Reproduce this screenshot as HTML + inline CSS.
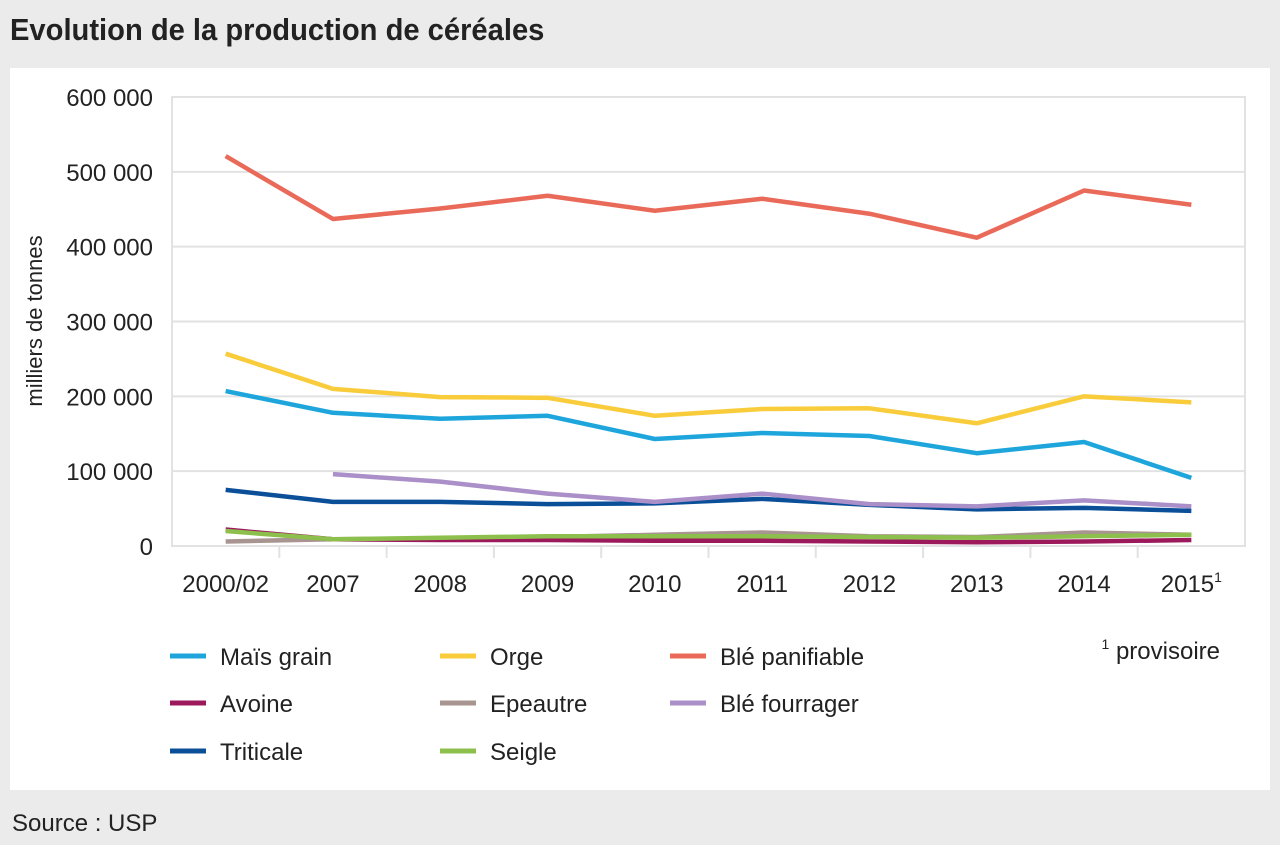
<!DOCTYPE html>
<html><head><meta charset="utf-8"><style>
body{margin:0;width:1280px;height:845px;background:#ebebeb;font-family:"Liberation Sans",sans-serif;overflow:hidden;position:relative}
#title{position:absolute;left:10px;top:12px;font-size:31px;font-weight:bold;color:#222;transform:scaleX(0.94);transform-origin:left top}
#panel{position:absolute;left:10px;top:68px;width:1260px;height:722px;background:#fff}
#src{position:absolute;left:12px;top:810px;font-size:24px;color:#222}
svg text{font-family:"Liberation Sans",sans-serif;fill:#222}
</style></head><body>
<div id="title">Evolution de la production de céréales</div>
<div id="panel"></div>
<svg id="chart" width="1280" height="845" style="position:absolute;left:0;top:0"></svg>
<div id="src">Source : USP</div>
<script>
const categories=["2000/02","2007","2008","2009","2010","2011","2012","2013","2014","2015"];
const yTicks=[0,100000,200000,300000,400000,500000,600000];
const yTickLabels=["0","100 000","200 000","300 000","400 000","500 000","600 000"];
const seriesNames=["Maïs grain","Orge","Blé panifiable","Avoine","Epeautre","Blé fourrager","Triticale","Seigle"];
const seriesColors=["#1ea6dc","#f9cc3c","#ea6a5a","#9c1a5c","#a89490","#ab8fc8","#0a4f98","#8cbf4c"];
const maisGrain=[207000,178000,170000,174000,143000,151000,147000,124000,139000,91000];
const orge=[257000,210000,199000,198000,174000,183000,184000,164000,200000,192000];
const blePanifiable=[521000,437000,451000,468000,448000,464000,444000,412000,475000,456000];
const avoine=[22000,9000,8000,8000,7000,7000,6000,5000,6000,8000];
const epeautre=[6000,9000,10000,12000,15000,18000,13000,12000,18000,15000];
const bleFourrager=[null,96000,86000,70000,59000,70000,56000,53000,61000,53000];
const triticale=[75000,59000,59000,56000,57000,63000,55000,49000,51000,47000];
const seigle=[20000,9000,11000,13000,13000,13000,12000,11000,13000,15000];
const allSeries=[maisGrain,orge,blePanifiable,avoine,epeautre,bleFourrager,triticale,seigle];
const drawOrder=[4,3,7,6,5,0,1,2];
const NS="http://www.w3.org/2000/svg";
const svg=document.getElementById("chart");
const L=172,R=1245,T=97,B=546;
const band=(R-L)/categories.length;
const x=i=>L+band*(i+0.5);
const y=v=>B-(v/600000)*(B-T);
function el(t,a){const e=document.createElementNS(NS,t);for(const k in a)e.setAttribute(k,a[k]);svg.appendChild(e);return e;}
yTicks.forEach((v,i)=>{
  const g=el("line",{x1:L,x2:R,y1:y(v),y2:y(v),stroke:"#e2e2e2","stroke-width":2});
  
  
  const t=el("text",{x:153,y:y(v)+9,"text-anchor":"end","font-size":24});
  t.textContent=yTickLabels[i];
  
  
});
const fr=el("rect",{x:L,y:T,width:R-L,height:B-T,fill:"none",stroke:"#e2e2e2","stroke-width":2});


for(let i=1;i<categories.length;i++){
  const tk=el("line",{x1:L+band*i,x2:L+band*i,y1:B,y2:B+12,stroke:"#e2e2e2","stroke-width":2});
  
  
}
categories.forEach((c,i)=>{
  const t=el("text",{x:x(i),y:592,"text-anchor":"middle","font-size":24});
  t.textContent=c;
  
  
  if(i===categories.length-1){const s=document.createElementNS(NS,"tspan");s.setAttribute("font-size",14);s.setAttribute("dy",-10);s.textContent="1";t.appendChild(s);}
});
const yt=el("text",{transform:"translate(42,321) rotate(-90)","text-anchor":"middle","font-size":22});
yt.textContent="milliers de tonnes";


drawOrder.forEach(si=>{
  const d=allSeries[si];let p="";let first=true;
  d.forEach((v,i)=>{if(v==null)return;p+=(first?"M":"L")+x(i)+","+y(v);first=false;});
  const pa=el("path",{d:p,fill:"none",stroke:seriesColors[si],"stroke-width":4.5,"stroke-linejoin":"round"});
  
  
});
const lx=[170,440,670],ly=[656,703,751];
seriesNames.forEach((n,i)=>{
  const cx=lx[i%3],cy=ly[Math.floor(i/3)];
  const ln=el("line",{x1:cx,x2:cx+36,y1:cy,y2:cy,stroke:seriesColors[i],"stroke-width":5});
  
  
  const t=el("text",{x:cx+50,y:cy+9,"font-size":24});
  t.textContent=n;
  
  
});
const pv=el("text",{x:1220,y:659,"text-anchor":"end","font-size":24});
pv.innerHTML='<tspan font-size="14" dy="-10">1</tspan><tspan dy="10"> provisoire</tspan>';


</script>
</body></html>
